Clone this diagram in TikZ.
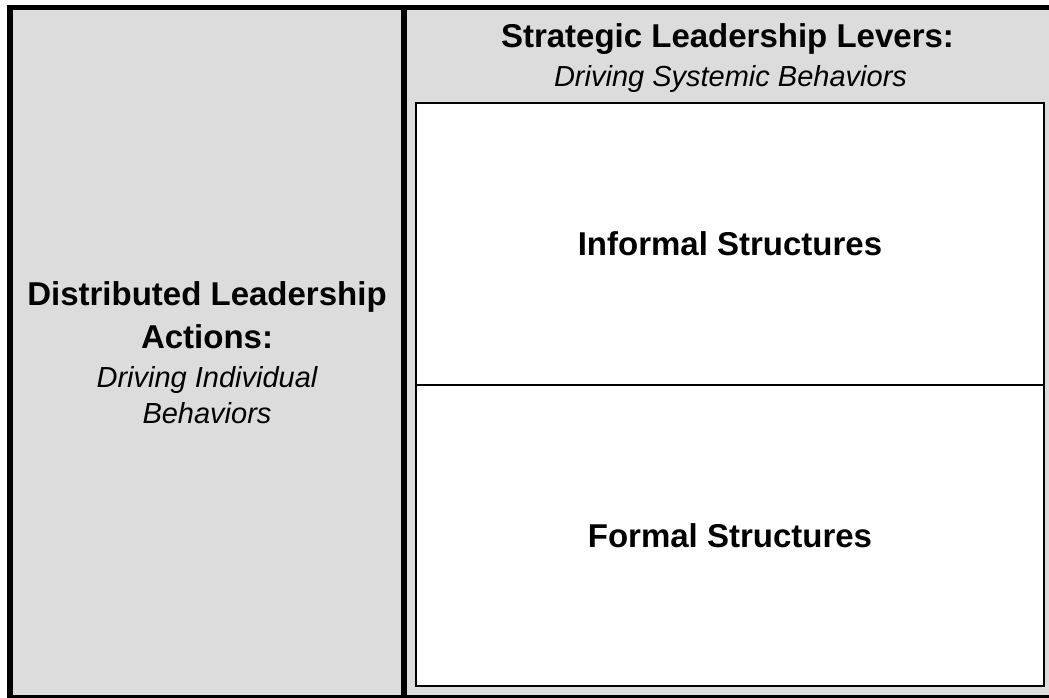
\documentclass[tikz,border=0pt]{standalone}
\usepackage{fontspec}
\setmainfont{Liberation Sans}
\definecolor{panelgray}{HTML}{DCDCDC}
\begin{document}
\begin{tikzpicture}[x=1pt,y=-1pt,
  frame/.style={line width=5.5pt, draw=black},
  structbox/.style={draw=black, line width=2pt, fill=white, inner sep=0pt,
    minimum width=628pt, font=\fontsize{33}{40}\selectfont\bfseries},
  headline/.style={font=\fontsize{33}{40}\selectfont\bfseries, anchor=base, inner sep=0pt},
  subline/.style={font=\fontsize{29}{36}\selectfont\itshape, anchor=base, inner sep=0pt}]
\useasboundingbox (0,0) rectangle (1049,698);
% gray panels with the heavy outer frame and divider
\begin{scope}
  \clip (0,0) rectangle (1049,698);
  \fill[panelgray] (10,7.5) rectangle (1060,710);
  \draw[frame] (10,7.5) rectangle (1060,697.5);
  \draw[line width=6pt] (404,7.5) -- (404,697.5);
\end{scope}
% right column: the two structure boxes
\node[structbox, minimum height=282pt] (informal) at (730,244) {Informal Structures};
\node[structbox, minimum height=301pt] (formal) at (730,535.5) {Formal Structures};
% right column heading
\node[headline] (levers) at (727.5,48) {Strategic Leadership Levers:};
\node[subline] (systemic) at (730.5,87) {Driving Systemic Behaviors};
% left column text
\node[headline] (distributed) at (207,305.5) {Distributed Leadership};
\node[headline] (actions) at (207,348) {Actions:};
\node[subline] (individual) at (207,387) {Driving Individual};
\node[subline] (behaviors) at (207,423) {Behaviors};
\end{tikzpicture}
\end{document}
